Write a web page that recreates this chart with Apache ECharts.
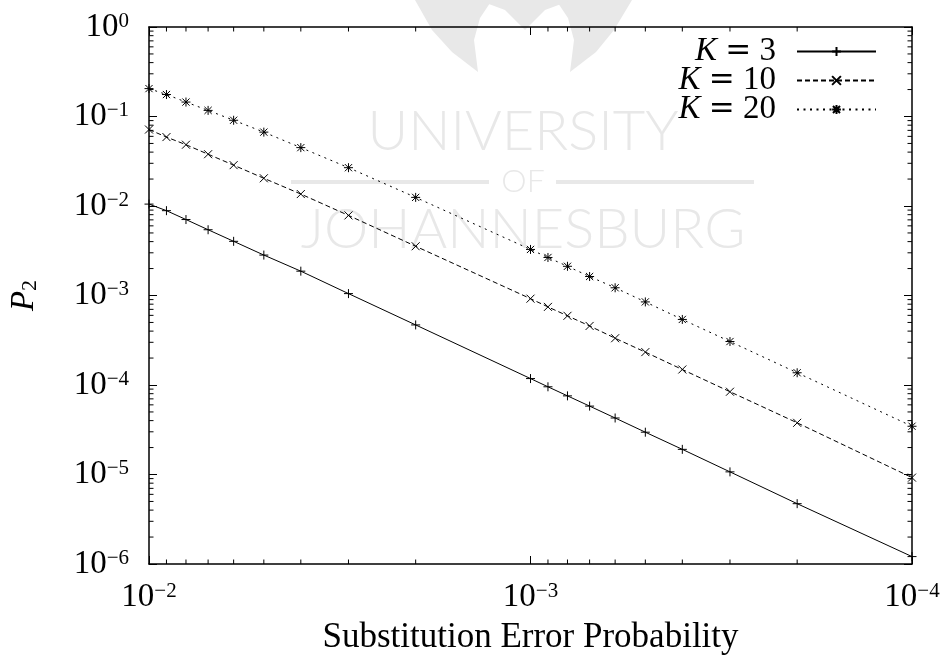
<!DOCTYPE html>
<html>
<head>
<meta charset="utf-8">
<script src="https://cdn.jsdelivr.net/npm/echarts@6/dist/echarts.min.js"></script>
<style>
  html, body { margin: 0; padding: 0; background: #fff; }
  #chart { width: 944px; height: 660px; }
</style>
</head>
<body>
<div id="chart"></div>
<script>
// substitution error probability (x) and P2 for each K
var xValues = [1e-2, 9e-3, 8e-3, 7e-3, 6e-3, 5e-3, 4e-3, 3e-3, 2e-3,
               1e-3, 9e-4, 8e-4, 7e-4, 6e-4, 5e-4, 4e-4, 3e-4, 2e-4, 1e-4];
var k3 = [1.05e-2, 8.87e-3, 7.06e-3, 5.43e-3, 4.03e-3, 2.83e-3, 1.87e-3, 1.05e-3, 4.69e-4,
          1.18e-4, 9.55e-5, 7.56e-5, 5.81e-5, 4.28e-5, 2.97e-5, 1.91e-5, 1.07e-5, 4.72e-6, 1.21e-6];
var k10 = [7.15e-2, 5.89e-2, 4.84e-2, 3.79e-2, 2.86e-2, 2.04e-2, 1.36e-2, 7.85e-3, 3.55e-3,
           9.22e-4, 7.46e-4, 5.93e-4, 4.57e-4, 3.33e-4, 2.33e-4, 1.49e-4, 8.41e-5, 3.78e-5, 9.23e-6];
var k20 = [0.205, 0.176, 0.145, 0.117, 0.0908, 0.0669, 0.0449, 0.0268, 0.01248,
           3.27e-3, 2.66e-3, 2.12e-3, 1.63e-3, 1.22e-3, 8.48e-4, 5.40e-4, 3.06e-4, 1.37e-4, 3.46e-5];
var seriesNames = ['K = 3', 'K = 10', 'K = 20'];

// axis ranges and minor tick positions
var xMin = 1e-4, xMax = 1e-2;
var yMin = 1e-6, yMax = 1;
var mantissas = [2, 3, 4, 5, 6, 7, 8, 9];
var xDecades = [1e-4, 1e-3];
var yDecades = [1e-6, 1e-5, 1e-4, 1e-3, 1e-2, 1e-1];

var FONT = 'Liberation Serif';
var GRAY = '#e8e8e8';

var xMinor = [];
xDecades.forEach(function (d) { mantissas.forEach(function (m) { xMinor.push([m * d, yMin]); }); });
var yMinor = [];
yDecades.forEach(function (d) { mantissas.forEach(function (m) { yMinor.push([xMax, m * d]); }); });

function pairs(ys) {
  return xValues.map(function (x, i) { return [x, ys[i]]; });
}

function powLabel(value) {
  var e = Math.round(Math.log(value) / Math.LN10);
  var s = e < 0 ? '\u2212' + (-e) : '' + e;
  return '{b|10}{s|' + s + '}';
}

var labelRich = {
  b: { fontFamily: FONT, fontSize: 33, lineHeight: 33, color: '#000' },
  s: { fontFamily: FONT, fontSize: 21, lineHeight: 21, color: '#000', verticalAlign: 'top' }
};

function tickLine(x1, y1, x2, y2) {
  return { type: 'line', shape: { x1: x1, y1: y1, x2: x2, y2: y2 },
           style: { stroke: '#000', lineWidth: 1 } };
}

var symPlus = 'path://M5 0L5 10M0 5L10 5';
var symCross = 'path://M0 0L10 10M10 0L0 10';
var symStar = 'path://M5 0L5 10M0 5L10 5M1 1L9 9M9 1L1 9';

function lineSeries(name, data, symbol, size, dash) {
  return {
    name: name,
    type: 'line',
    data: pairs(data),
    symbol: symbol,
    symbolSize: size,
    showSymbol: true,
    showAllSymbol: true,
    lineStyle: { color: '#000', width: 1, type: dash },
    itemStyle: { color: '#000', borderColor: '#000', borderWidth: 1 },
    emphasis: { disabled: true },
    z: 5
  };
}

var chart = echarts.init(document.getElementById('chart'));
chart.setOption({
  animation: false,
  backgroundColor: '#fff',
  graphic: [
    { type: 'group', z: -10, silent: true, children: [
      { type: 'polygon', shape: { points: [[415, 0], [432, 30], [452, 52], [478, 72], [474, 40], [480, 18], [492, 0]] }, style: { fill: GRAY } },
      { type: 'polygon', shape: { points: [[632, 0], [614, 30], [596, 52], [570, 72], [574, 40], [568, 18], [556, 0]] }, style: { fill: GRAY } },
      { type: 'polygon', shape: { points: [[478, 0], [505, 10], [525, 30], [545, 10], [572, 0]] }, style: { fill: GRAY } },
      { type: 'text', x: 523, y: 132, style: { text: 'UNIVERSITY', font: '300 56px Lato', fill: GRAY, align: 'center', verticalAlign: 'middle' } },
      { type: 'text', x: 523, y: 182, style: { text: 'OF', font: '300 32px Lato', fill: GRAY, align: 'center', verticalAlign: 'middle' } },
      { type: 'rect', shape: { x: 291, y: 180, width: 198, height: 4 }, style: { fill: GRAY } },
      { type: 'rect', shape: { x: 556, y: 180, width: 198, height: 4 }, style: { fill: GRAY } },
      { type: 'text', x: 523, y: 230, style: { text: 'JOHANNESBURG', font: '300 56px Lato', fill: GRAY, align: 'center', verticalAlign: 'middle' } }
    ]}
  ],
  legend: {
    data: seriesNames,
    orient: 'vertical',
    align: 'right',
    right: 62,
    top: 30,
    itemWidth: 79,
    itemHeight: 11,
    itemGap: -4,
    selectedMode: false,
    textStyle: {
      fontFamily: FONT, fontSize: 33, lineHeight: 29, color: '#000',
      padding: [0, 16, 0, 0],
      rich: {
        i: { fontFamily: FONT, fontSize: 33, lineHeight: 29, fontStyle: 'italic', color: '#000' },
        eq: { fontFamily: 'DejaVu Serif', fontSize: 31, lineHeight: 29, color: '#000' }
      }
    },
    formatter: function (name) {
      return name.replace('K', '{i|K}').replace('=', '{eq|=}');
    }
  },
  grid: { left: 148, right: 32, top: 27, bottom: 90 },
  xAxis: [
    {
      type: 'log', logBase: 10, min: xMin, max: xMax, inverse: true, splitNumber: 2,
      name: 'Substitution Error Probability', nameLocation: 'middle', nameGap: 56,
      nameTextStyle: { fontFamily: FONT, fontSize: 35, color: '#000' },
      axisLine: { lineStyle: { color: '#000', width: 1.5 } },
      axisTick: { inside: true, length: 8, lineStyle: { color: '#000', width: 1 } },
      axisLabel: { margin: 17, formatter: powLabel, rich: labelRich },
      splitLine: { show: false }
    },
    {
      type: 'log', logBase: 10, min: xMin, max: xMax, inverse: true, splitNumber: 2, position: 'top',
      axisLine: { lineStyle: { color: '#000', width: 1.5 } },
      axisTick: { inside: true, length: 8, lineStyle: { color: '#000', width: 1 } },
      axisLabel: { show: false },
      splitLine: { show: false }
    }
  ],
  yAxis: [
    {
      type: 'log', logBase: 10, min: yMin, max: yMax, splitNumber: 6,
      name: '{i|P}{sub|2}', nameLocation: 'middle', nameGap: 108,
      nameTextStyle: {
        rich: {
          i: { fontFamily: FONT, fontSize: 33, fontStyle: 'italic', color: '#000' },
          sub: { fontFamily: FONT, fontSize: 22, color: '#000', verticalAlign: 'bottom' }
        }
      },
      axisLine: { lineStyle: { color: '#000', width: 1.5 } },
      axisTick: { inside: true, length: 8, lineStyle: { color: '#000', width: 1 } },
      axisLabel: { margin: 20, formatter: powLabel, rich: labelRich },
      splitLine: { show: false }
    },
    {
      type: 'log', logBase: 10, min: yMin, max: yMax, splitNumber: 6, position: 'right',
      axisLine: { lineStyle: { color: '#000', width: 1.5 } },
      axisTick: { inside: true, length: 8, lineStyle: { color: '#000', width: 1 } },
      axisLabel: { show: false },
      splitLine: { show: false }
    }
  ],
  series: [
    lineSeries(seriesNames[0], k3, symPlus, 9, 'solid'),
    lineSeries(seriesNames[1], k10, symCross, 8, [5, 3]),
    lineSeries(seriesNames[2], k20, symStar, 9, [2, 4.5]),
    {
      type: 'custom', silent: true, data: xMinor, z: 4,
      renderItem: function (params, api) {
        var v = api.value(0);
        var a = api.coord([v, yMin]);
        var b = api.coord([v, yMax]);
        return { type: 'group', children: [
          tickLine(a[0], a[1], a[0], a[1] - 4.5),
          tickLine(b[0], b[1], b[0], b[1] + 4.5)
        ]};
      }
    },
    {
      type: 'custom', silent: true, data: yMinor, z: 4,
      renderItem: function (params, api) {
        var v = api.value(1);
        var a = api.coord([xMax, v]);
        var b = api.coord([xMin, v]);
        return { type: 'group', children: [
          tickLine(a[0], a[1], a[0] + 4.5, a[1]),
          tickLine(b[0], b[1], b[0] - 4.5, b[1])
        ]};
      }
    }
  ]
});
</script>
</body>
</html>
